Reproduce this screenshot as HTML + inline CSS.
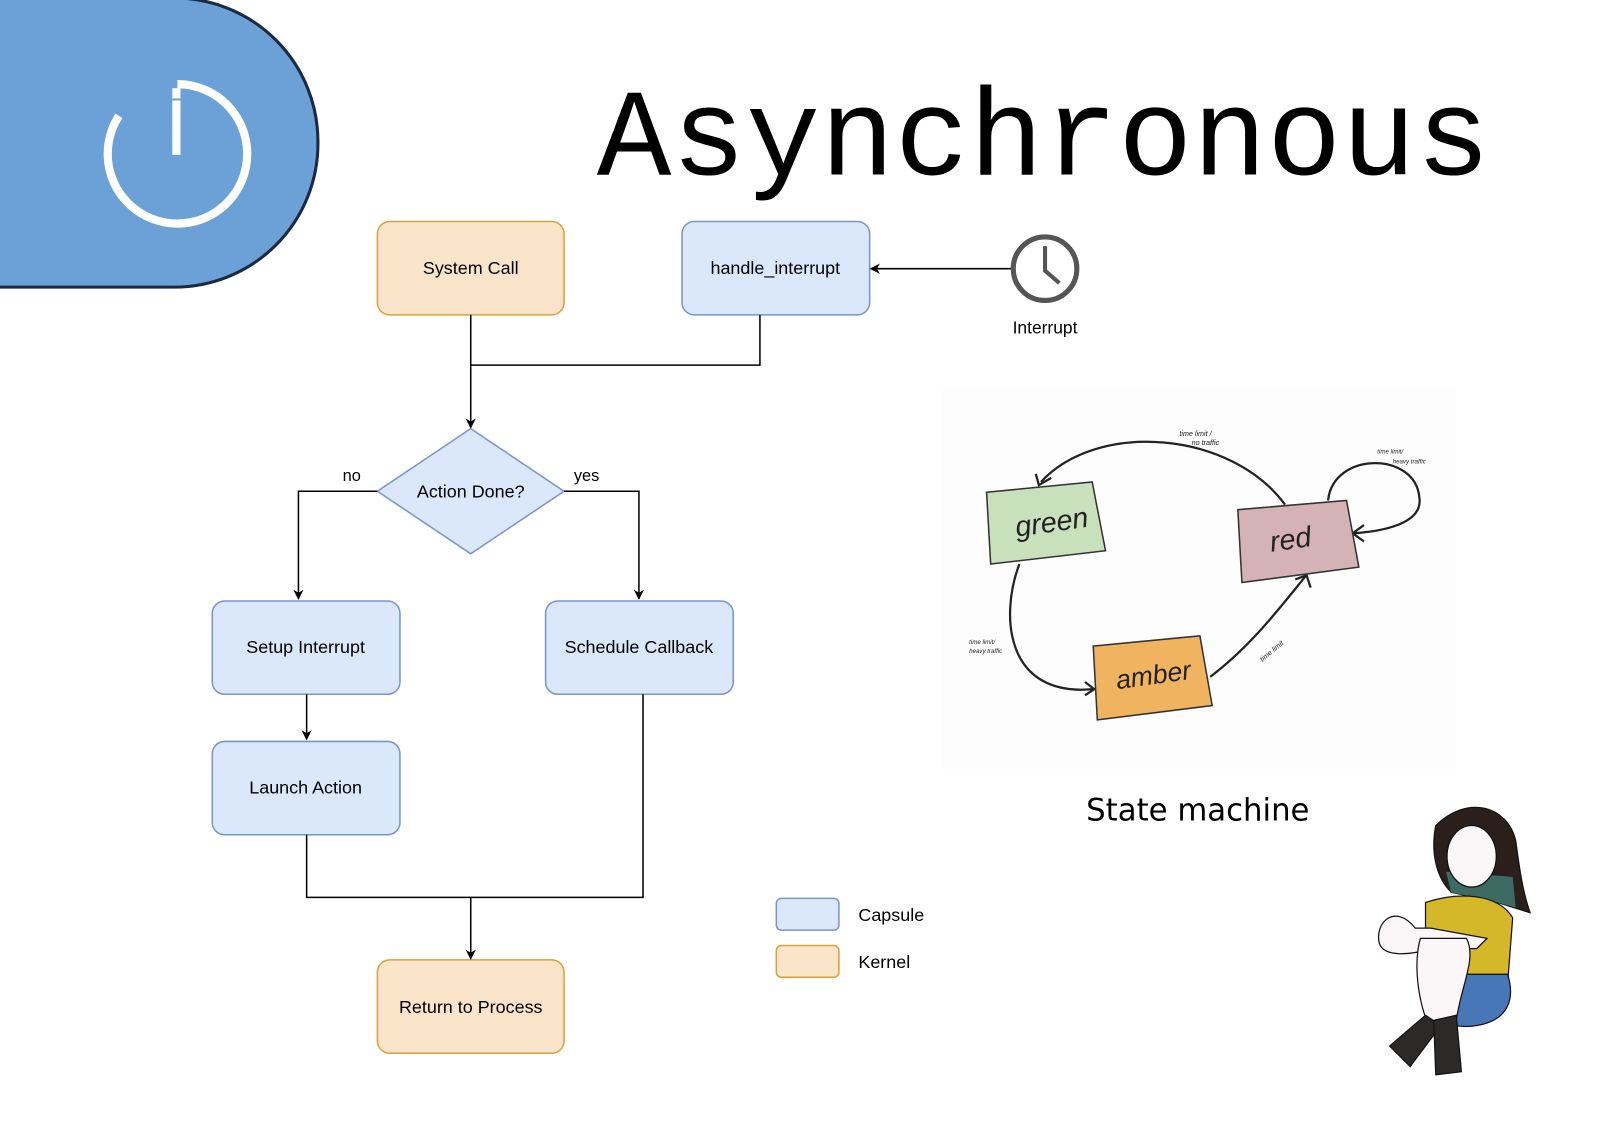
<!DOCTYPE html>
<html><head><meta charset="utf-8"><style>
html,body{margin:0;padding:0;background:#fff;}
svg{display:block;}
text{font-family:"Liberation Sans",sans-serif;}
</style></head><body>
<svg width="1606" height="1133" viewBox="0 0 1566 1104.8" preserveAspectRatio="none" xmlns="http://www.w3.org/2000/svg">
<defs>
<marker id="ar" markerWidth="10" markerHeight="10" refX="9" refY="5" orient="auto" markerUnits="userSpaceOnUse">
<path d="M0,0 L10,5 L0,10 L3,5 Z" fill="#000"/></marker>
</defs>
<!-- blue shape -->
<path d="M-5,-2 L170,-2 A140,140 0 0 1 310,138 L310,140 A140,140 0 0 1 170,280 L-5,280 Z" fill="#6ca1d7" stroke="#1c2a3f" stroke-width="3"/>
<!-- power icon -->
<path d="M173,82 A68,68 0 1 1 116,113" fill="none" stroke="#fff" stroke-width="8"/>
<rect x="168" y="86" width="8" height="65" fill="#fff"/>
<rect x="168" y="96" width="8" height="2" fill="#6ca1d7"/>
<!-- title -->
<text x="582" y="170" font-size="121" style="font-family:'Liberation Mono',monospace">Asynchronous</text>
<!-- boxes -->
<g stroke-width="1.5" font-size="17.5" text-anchor="middle">
<rect x="368" y="216" width="182" height="91" rx="12" fill="#fae5cb" stroke="#d6a33d"/>
<text x="459" y="267" stroke="none">System Call</text>
<rect x="665" y="216" width="183" height="91" rx="12" fill="#dbe7fb" stroke="#7b95c9"/>
<text x="756" y="267" stroke="none">handle_interrupt</text>
<rect x="207" y="586" width="183" height="91" rx="12" fill="#dbe7fb" stroke="#7b95c9"/>
<text x="298" y="637" stroke="none">Setup Interrupt</text>
<rect x="532" y="586" width="183" height="91" rx="12" fill="#dbe7fb" stroke="#7b95c9"/>
<text x="623" y="637" stroke="none">Schedule Callback</text>
<rect x="207" y="723" width="183" height="91" rx="12" fill="#dbe7fb" stroke="#7b95c9"/>
<text x="298" y="774" stroke="none">Launch Action</text>
<rect x="368" y="936" width="182" height="91" rx="12" fill="#fae5cb" stroke="#d6a33d"/>
<text x="459" y="988" stroke="none">Return to Process</text>
<polygon points="459,418 550,479 459,540 368,479" fill="#dbe7fb" stroke="#7b95c9"/>
<text x="459" y="485" stroke="none">Action Done?</text>
<text x="343" y="469" stroke="none" font-size="16">no</text>
<text x="572" y="469" stroke="none" font-size="16">yes</text>
</g>
<!-- connectors -->
<g fill="none" stroke="#000" stroke-width="1.5">
<path d="M459,307 V417" marker-end="url(#ar)"/>
<path d="M741,307 V356 H459"/>
<path d="M986,262 H849" marker-end="url(#ar)"/>
<path d="M368,479 H291 V584" marker-end="url(#ar)"/>
<path d="M550,479 H623 V584" marker-end="url(#ar)"/>
<path d="M299,677 V721" marker-end="url(#ar)"/>
<path d="M299,814 V875 H627 V677"/>
<path d="M459,875 V935" marker-end="url(#ar)"/>
</g>
<!-- clock -->
<circle cx="1019" cy="262" r="31" fill="#fff" stroke="#555" stroke-width="5"/>
<path d="M1019,240 V264 L1033,276" fill="none" stroke="#555" stroke-width="4"/>
<text x="1019" y="325" font-size="17" text-anchor="middle">Interrupt</text>
<!-- legend -->
<rect x="757" y="876" width="61" height="31" rx="5" fill="#dbe7fb" stroke="#7b95c9" stroke-width="1.5"/>
<text x="837" y="898" font-size="17.5">Capsule</text>
<rect x="757" y="922" width="61" height="31" rx="5" fill="#fae5cb" stroke="#d6a33d" stroke-width="1.5"/>
<text x="837" y="944" font-size="17.5">Kernel</text>
<!-- state machine -->
<rect x="918" y="378" width="502" height="372" fill="#fdfdfd"/>
<g stroke="#222" stroke-width="2.2" fill="none">
<path d="M1253,492 C1200,420 1070,410 1015,470"/>
<path d="M1010,462 L1013,473 L1025,466"/>
<path d="M1295,488 C1300,440 1380,440 1384,485 C1388,510 1350,518 1320,520"/>
<path d="M1330,512 L1319,520 L1330,528"/>
<path d="M994,550 C975,600 980,680 1066,672"/>
<path d="M1058,665 L1067,672 L1058,678"/>
<path d="M1180,660 C1220,630 1250,590 1273,562"/>
<path d="M1263,565 L1274,561 L1278,573"/>
</g>
<polygon points="962,480 1065,470 1078,537 966,550" fill="#c8e0bb" stroke="#333" stroke-width="1.5"/>
<polygon points="1207,497 1313,488 1325,553 1211,568" fill="#d4b2b6" stroke="#333" stroke-width="1.5"/>
<polygon points="1066,630 1170,620 1182,688 1070,702" fill="#f0b461" stroke="#333" stroke-width="1.5"/>
<g font-family="DejaVu Sans, sans-serif" fill="#222" font-style="italic">
<text x="990" y="520" font-size="28" transform="rotate(-8 1015 512)">green</text>
<text x="1238" y="535" font-size="28" transform="rotate(-8 1260 525)">red</text>
<text x="1088" y="668" font-size="26" transform="rotate(-8 1118 660)">amber</text>
<text x="1150" y="425" font-size="7">time limit /</text><text x="1162" y="434" font-size="7">no traffic</text>
<text x="1343" y="442" font-size="6">time limit/</text><text x="1358" y="452" font-size="6">heavy traffic</text>
<text x="945" y="628" font-size="6">time limit/</text><text x="945" y="637" font-size="6">heavy traffic</text>
<text x="1218" y="640" font-size="7" transform="rotate(-40 1232 625)">time limit</text>
</g>
<text x="1168" y="800" font-size="30" text-anchor="middle" style="font-family:'DejaVu Sans',sans-serif">State machine</text>
<!-- girl -->
<g stroke="#111" stroke-width="1.2">
<path d="M1400,805 C1430,775 1470,785 1478,820 C1482,850 1485,870 1492,890 L1460,880 L1415,870 C1400,855 1395,830 1400,805Z" fill="#2b1f1c"/>
<path d="M1415,870 L1460,880 L1478,885 L1475,855 L1410,850Z" fill="#3d6a62" stroke="none"/>
<ellipse cx="1435" cy="835" rx="24" ry="30" fill="#fbf6f8"/>
<path d="M1390,880 C1420,870 1460,870 1475,895 L1470,960 L1390,960Z" fill="#d4b82a"/>
<path d="M1385,950 C1380,990 1410,1005 1440,1000 C1470,995 1478,975 1470,950Z" fill="#4877b8"/>
<path d="M1380,905 C1360,880 1340,900 1345,920 C1350,935 1380,930 1395,925 L1440,925 L1450,915 L1395,905Z" fill="#fbf6f8"/>
<path d="M1385,915 C1375,950 1390,1000 1395,1000 L1420,995 C1425,960 1440,935 1430,915Z" fill="#fbf6f8"/>
<path d="M1355,1020 L1390,990 L1405,1000 L1375,1040 Z" fill="#2c2a28"/>
<path d="M1398,995 L1420,990 L1425,1045 L1400,1048 Z" fill="#2c2a28"/>
</g>
</svg>
</body></html>
